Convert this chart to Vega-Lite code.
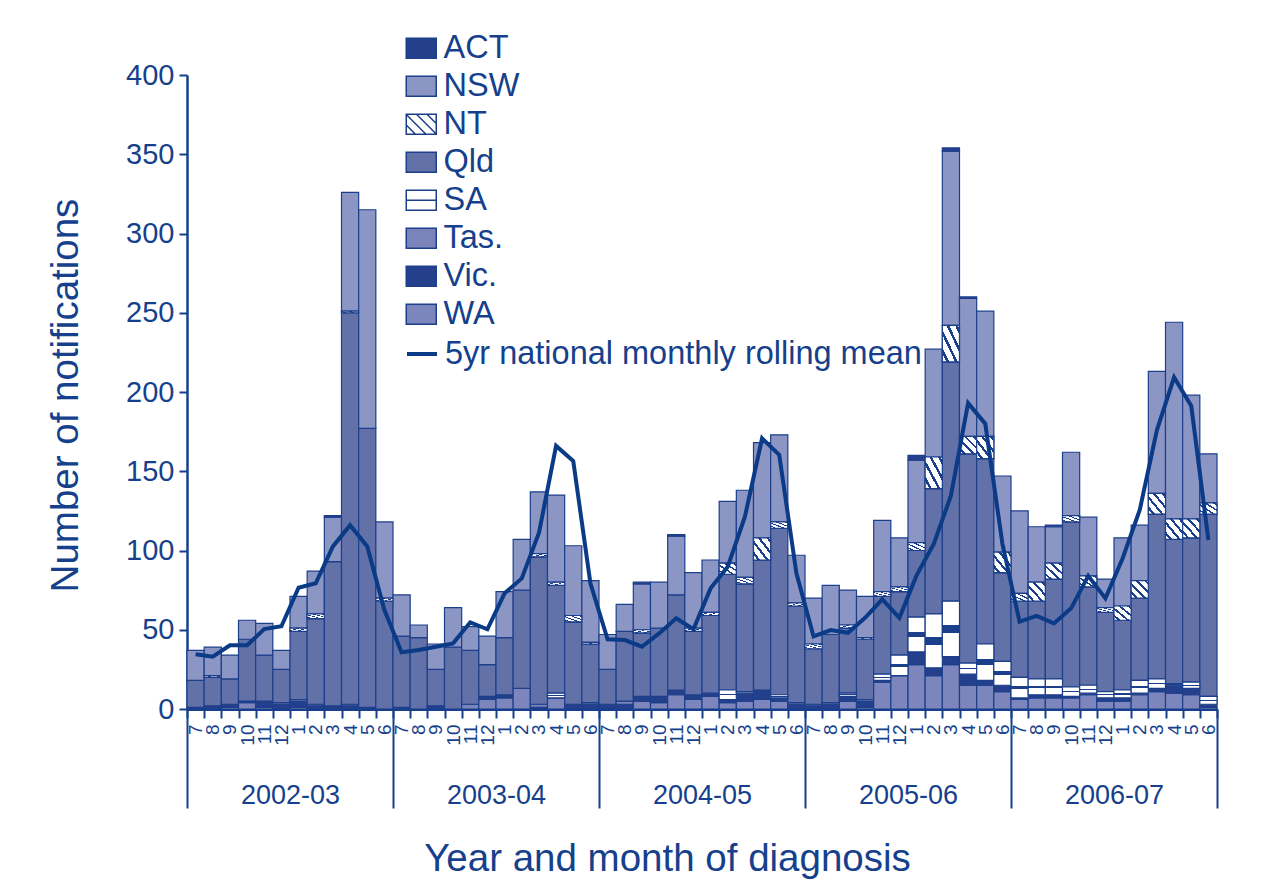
{
  "$schema": "https://vega.github.io/schema/vega-lite/v6.json",
  "width": 1030,
  "height": 634,
  "autosize": {"type": "none"},
  "padding": {"left": 187, "top": 75, "right": 53, "bottom": 174},
  "background": "white",
  "config": {
    "font": "Liberation Sans",
    "view": {"stroke": null},
    "axis": {"labelColor": "#163F8C", "titleColor": "#163F8C", "domainColor": "#163F8C", "tickColor": "#163F8C", "grid": false, "titleFontWeight": "normal", "labelFont": "Liberation Sans", "titleFont": "Liberation Sans"},
    "legend": {"labelFont": "Liberation Sans"}
  },
  "datasets": {
    "months": [
    {"m": "2002-07", "yr": "2002-03", "Vic": 1, "Qld": 17, "NSW": 19, "mean": 34.6},
    {"m": "2002-08", "yr": "2002-03", "Vic": 2, "Qld": 18, "NT": 1, "NSW": 18, "mean": 33},
    {"m": "2002-09", "yr": "2002-03", "WA": 1, "Vic": 2, "Qld": 16, "NSW": 15, "mean": 40.2},
    {"m": "2002-10", "yr": "2002-03", "WA": 4, "Vic": 1, "Qld": 39, "NSW": 12, "mean": 40.2},
    {"m": "2002-11", "yr": "2002-03", "WA": 1, "Vic": 4, "Qld": 29, "NSW": 20, "mean": 50.4},
    {"m": "2002-12", "yr": "2002-03", "Vic": 3, "Tas": 1, "Qld": 21, "NSW": 12, "mean": 52.2},
    {"m": "2003-01", "yr": "2002-03", "WA": 1, "Vic": 4, "Tas": 1, "Qld": 43, "NT": 2, "NSW": 20, "mean": 76.5},
    {"m": "2003-02", "yr": "2002-03", "Vic": 2, "Tas": 1, "Qld": 54, "NT": 3, "NSW": 27, "mean": 79.3},
    {"m": "2003-03", "yr": "2002-03", "Vic": 2, "Qld": 91, "NSW": 28, "ACT": 1, "mean": 102.6},
    {"m": "2003-04", "yr": "2002-03", "Vic": 2, "Tas": 1, "Qld": 247, "NT": 1, "NSW": 75, "mean": 116},
    {"m": "2003-05", "yr": "2002-03", "Vic": 1, "Qld": 176, "NSW": 138, "mean": 102.6},
    {"m": "2003-06", "yr": "2002-03", "Qld": 68, "NT": 2, "NSW": 48, "mean": 62.4},
    {"m": "2003-07", "yr": "2003-04", "Vic": 1, "Qld": 45, "NSW": 26, "mean": 35.8},
    {"m": "2003-08", "yr": "2003-04", "Qld": 45, "NSW": 8, "mean": 37.2},
    {"m": "2003-09", "yr": "2003-04", "Vic": 2, "Qld": 23, "NSW": 16, "mean": 39.3},
    {"m": "2003-10", "yr": "2003-04", "Qld": 39, "NSW": 25, "mean": 41.4},
    {"m": "2003-11", "yr": "2003-04", "WA": 3, "Qld": 34, "NSW": 15, "mean": 54.7},
    {"m": "2003-12", "yr": "2003-04", "WA": 6, "Vic": 2, "Qld": 20, "NSW": 18, "mean": 50.3},
    {"m": "2004-01", "yr": "2003-04", "WA": 7, "Vic": 2, "Qld": 36, "NSW": 29, "mean": 73},
    {"m": "2004-02", "yr": "2003-04", "WA": 13, "Qld": 62, "NSW": 32, "mean": 82.4},
    {"m": "2004-03", "yr": "2003-04", "Vic": 1, "Tas": 2, "Qld": 93, "NT": 2, "NSW": 39, "mean": 111},
    {"m": "2004-04", "yr": "2003-04", "WA": 7, "SA": 3, "Qld": 68, "NT": 2, "NSW": 55, "mean": 166},
    {"m": "2004-05", "yr": "2003-04", "Vic": 3, "Qld": 52, "NT": 4, "NSW": 44, "mean": 156.5},
    {"m": "2004-06", "yr": "2003-04", "Vic": 3, "Tas": 1, "Qld": 37, "NT": 1, "NSW": 39, "mean": 79.3},
    {"m": "2004-07", "yr": "2004-05", "Vic": 3, "Qld": 22, "NSW": 22, "mean": 44},
    {"m": "2004-08", "yr": "2004-05", "Vic": 3, "Tas": 2, "Qld": 44, "NSW": 17, "mean": 43.5},
    {"m": "2004-09", "yr": "2004-05", "WA": 5, "Vic": 3, "Qld": 40, "NT": 2, "NSW": 29, "ACT": 1, "mean": 39.3},
    {"m": "2004-10", "yr": "2004-05", "WA": 4, "Vic": 4, "Qld": 43, "NSW": 29, "mean": 47.7},
    {"m": "2004-11", "yr": "2004-05", "WA": 9, "Vic": 3, "Qld": 60, "NSW": 37, "ACT": 1, "mean": 57.2},
    {"m": "2004-12", "yr": "2004-05", "WA": 6, "Vic": 3, "Qld": 40, "NT": 2, "NSW": 35, "mean": 50.3},
    {"m": "2005-01", "yr": "2004-05", "WA": 8, "Vic": 2, "Qld": 49, "NT": 2, "NSW": 33, "mean": 76.1},
    {"m": "2005-02", "yr": "2004-05", "WA": 4, "Vic": 2, "SA": 6, "Qld": 73, "NT": 7, "NSW": 39, "mean": 89.8},
    {"m": "2005-03", "yr": "2004-05", "WA": 5, "Vic": 5, "SA": 1, "Qld": 68, "NT": 4, "NSW": 55, "mean": 121.3},
    {"m": "2005-04", "yr": "2004-05", "WA": 6, "Vic": 6, "Qld": 82, "NT": 14, "NSW": 60, "mean": 170.8},
    {"m": "2005-05", "yr": "2004-05", "WA": 5, "Vic": 2, "SA": 2, "Qld": 105, "NT": 4, "NSW": 55, "mean": 160.3},
    {"m": "2005-06", "yr": "2004-05", "Vic": 3, "Tas": 1, "Qld": 61, "NT": 2, "NSW": 30, "mean": 85.6},
    {"m": "2005-07", "yr": "2005-06", "Vic": 2, "Tas": 1, "Qld": 35, "NT": 3, "NSW": 29, "mean": 45.8},
    {"m": "2005-08", "yr": "2005-06", "Vic": 3, "Tas": 1, "Qld": 43, "NSW": 31, "mean": 49.8},
    {"m": "2005-09", "yr": "2005-06", "WA": 5, "Vic": 3, "SA": 2, "Qld": 41, "NT": 2, "NSW": 22, "mean": 48.1},
    {"m": "2005-10", "yr": "2005-06", "WA": 1, "Vic": 4, "Tas": 1, "Qld": 38, "NT": 1, "NSW": 26, "mean": 57.5},
    {"m": "2005-11", "yr": "2005-06", "WA": 17, "Vic": 1, "SA": 4, "Qld": 49, "NT": 3, "NSW": 45, "mean": 69.2},
    {"m": "2005-12", "yr": "2005-06", "WA": 21, "SA": 13, "Qld": 40, "NT": 3, "NSW": 31, "mean": 57.5},
    {"m": "2006-01", "yr": "2005-06", "WA": 28, "Vic": 8, "SA": 22, "Qld": 42, "NT": 5, "NSW": 52, "ACT": 3, "mean": 84.3},
    {"m": "2006-02", "yr": "2005-06", "WA": 21, "Vic": 5, "SA": 34, "Qld": 79, "NT": 20, "NSW": 68, "mean": 104.2},
    {"m": "2006-03", "yr": "2005-06", "WA": 28, "Vic": 5, "SA": 35, "Qld": 151, "NT": 23, "NSW": 110, "ACT": 2, "mean": 134.6},
    {"m": "2006-04", "yr": "2005-06", "WA": 15, "Vic": 7, "SA": 7, "Qld": 132, "NT": 11, "NSW": 87, "ACT": 1, "mean": 193},
    {"m": "2006-05", "yr": "2005-06", "WA": 15, "Vic": 3, "SA": 23, "Qld": 117, "NT": 14, "NSW": 79, "mean": 180},
    {"m": "2006-06", "yr": "2005-06", "WA": 11, "Vic": 4, "SA": 15, "Qld": 56, "NT": 13, "NSW": 48, "mean": 104.2},
    {"m": "2006-07", "yr": "2006-07", "WA": 6, "Vic": 1, "SA": 13, "Qld": 48, "NT": 5, "NSW": 52, "mean": 55.1},
    {"m": "2006-08", "yr": "2006-07", "WA": 7, "Vic": 2, "SA": 10, "Qld": 49, "NT": 12, "NSW": 35, "mean": 58.7},
    {"m": "2006-09", "yr": "2006-07", "WA": 7, "Vic": 2, "SA": 10, "Qld": 63, "NT": 10, "NSW": 23, "ACT": 1, "mean": 54},
    {"m": "2006-10", "yr": "2006-07", "WA": 7, "Vic": 1, "SA": 6, "Qld": 104, "NT": 4, "NSW": 40, "mean": 63.5},
    {"m": "2006-11", "yr": "2006-07", "WA": 9, "Vic": 1, "SA": 5, "Qld": 62, "NT": 7, "NSW": 37, "mean": 84},
    {"m": "2006-12", "yr": "2006-07", "WA": 5, "Vic": 2, "SA": 4, "Qld": 50, "NT": 3, "NSW": 18, "mean": 69.8},
    {"m": "2007-01", "yr": "2006-07", "WA": 5, "Vic": 2, "SA": 5, "Qld": 44, "NT": 9, "NSW": 43, "mean": 95},
    {"m": "2007-02", "yr": "2006-07", "WA": 9, "Vic": 1, "SA": 8, "Qld": 52, "NT": 11, "NSW": 35, "mean": 125.6},
    {"m": "2007-03", "yr": "2006-07", "WA": 11, "Vic": 2, "SA": 6, "Qld": 104, "NT": 13, "NSW": 77, "mean": 176},
    {"m": "2007-04", "yr": "2006-07", "WA": 10, "Vic": 5, "SA": 1, "Qld": 91, "NT": 13, "NSW": 124, "mean": 209.3},
    {"m": "2007-05", "yr": "2006-07", "WA": 9, "Vic": 4, "SA": 4, "Qld": 91, "NT": 12, "NSW": 78, "mean": 191.2},
    {"m": "2007-06", "yr": "2006-07", "WA": 1, "Vic": 2, "SA": 5, "Qld": 115, "NT": 7, "NSW": 31, "mean": 106.6}
    ]
  },
  "data": {"name": "months"},
  "layer": [
    {
      "layer": [
        {
          "transform": [
            {"fold": ["WA", "Vic", "Tas", "SA", "Qld", "NT", "NSW", "ACT"], "as": ["state", "n"]},
            {"filter": "isValid(datum.n) && datum.n > 0"},
            {"calculate": "indexof(['WA','Vic','Tas','SA','Qld','NT','NSW','ACT'], datum.state)", "as": "ord"},
            {"stack": "n", "groupby": ["m"], "sort": [{"field": "ord", "order": "ascending"}], "as": ["y0", "y1"]}
          ],
          "mark": {"type": "bar", "stroke": "#1C3F8B", "strokeWidth": 1.2},
          "encoding": {
            "x": {
              "field": "m", "type": "ordinal",
              "scale": {"paddingInner": 0, "paddingOuter": 0},
              "axis": {"orient": "bottom", "title": null, "labelAngle": 270, "labelFontSize": 19, "labelPadding": 6, "tickSize": 9, "tickWidth": 2, "tickBand": "extent", "domainWidth": 3, "labelOverlap": false, "labelExpr": "isString(datum.label) && length(datum.label) >= 7 ? replace(slice(datum.label, 5), /^0/, '') : ''"}
            },
            "y": {
              "field": "y0", "type": "quantitative", "title": "Number of notifications",
              "scale": {"domain": [0, 400], "nice": false},
              "axis": {"title": "Number of notifications", "titleFontSize": 38.5, "titleX": -122, "titleY": 320, "titleAngle": 270, "titleAlign": "center", "titleBaseline": "middle", "values": [0, 50, 100, 150, 200, 250, 300, 350, 400], "labelFontSize": 29, "labelPadding": 5, "tickSize": 8, "tickWidth": 2, "domainWidth": 2.5}
            },
            "y2": {"field": "y1"},
            "color": {
              "field": "state", "type": "nominal",
              "scale": {
                "domain": ["ACT", "NSW", "NT", "Qld", "SA", "Tas", "Vic", "WA"],
                "range": ["#24408C", "#8C96C4", "#ffffff", "#6371A9", "#ffffff", "#7A84BA", "#24408C", "#7D86BC"]
              },
              "legend": {
                "orient": "none", "legendX": 218, "legendY": -43, "title": null, "padding": 0,
                "symbolType": "M-1,-0.667H1V0.667H-1Z", "symbolSize": 900, "symbolStrokeColor": "#1C3F8B", "symbolStrokeWidth": 1.5,
                "labelFontSize": 32.5, "labelColor": "#163F8C", "labelOffset": 6, "labelLimit": 0, "rowPadding": 5,
                "labelExpr": "datum.label == 'Tas' ? 'Tas.' : datum.label == 'Vic' ? 'Vic.' : datum.label",
                "encode": {"symbols": {"update": {
                  "stroke": {"value": "#1C3F8B"},
                  "strokeWidth": {"value": 1.5},
                  "shape": {"signal": "datum.value == 'NT' ? 'M-1,-0.667H1V0.667H-1Z M-1,0.05L-0.383,0.667 M-1,-0.65L0.317,0.667 M-0.317,-0.667L1,0.65 M0.383,-0.667L1,-0.05' : datum.value == 'SA' ? 'M-1,-0.667H1V0.667H-1Z M-1,0H1' : 'M-1,-0.667H1V0.667H-1Z'"}
                }}}
              }
            }
          }
        },
        {
          "transform": [
            {"fold": ["WA", "Vic", "Tas", "SA", "Qld", "NT", "NSW", "ACT"], "as": ["state", "n"]},
            {"filter": "isValid(datum.n) && datum.n > 0"},
            {"calculate": "indexof(['WA','Vic','Tas','SA','Qld','NT','NSW','ACT'], datum.state)", "as": "ord"},
            {"stack": "n", "groupby": ["m"], "sort": [{"field": "ord", "order": "ascending"}], "as": ["y0", "y1"]},
            {"filter": "datum.state == 'NT'"}
          ],
          "mark": {"type": "bar", "stroke": "#1C3F8B", "strokeWidth": 1.2, "color": {"gradient": "linear", "x1": 0, "y1": 1, "x2": 1, "y2": 0, "stops": [
            {"offset": 0, "color": "#ffffff"}, {"offset": 0.12, "color": "#ffffff"}, {"offset": 0.12, "color": "#1C3F8B"}, {"offset": 0.2, "color": "#1C3F8B"}, {"offset": 0.2, "color": "#ffffff"},
            {"offset": 0.37, "color": "#ffffff"}, {"offset": 0.37, "color": "#1C3F8B"}, {"offset": 0.45, "color": "#1C3F8B"}, {"offset": 0.45, "color": "#ffffff"},
            {"offset": 0.62, "color": "#ffffff"}, {"offset": 0.62, "color": "#1C3F8B"}, {"offset": 0.7, "color": "#1C3F8B"}, {"offset": 0.7, "color": "#ffffff"},
            {"offset": 0.87, "color": "#ffffff"}, {"offset": 0.87, "color": "#1C3F8B"}, {"offset": 0.95, "color": "#1C3F8B"}, {"offset": 0.95, "color": "#ffffff"}, {"offset": 1, "color": "#ffffff"}]}},
          "encoding": {
            "x": {"field": "m", "type": "ordinal"},
            "y": {"field": "y0", "type": "quantitative", "title": "Number of notifications"},
            "y2": {"field": "y1"}
          }
        },
        {
          "transform": [
            {"fold": ["WA", "Vic", "Tas", "SA", "Qld", "NT", "NSW", "ACT"], "as": ["state", "n"]},
            {"filter": "isValid(datum.n) && datum.n > 0"},
            {"calculate": "indexof(['WA','Vic','Tas','SA','Qld','NT','NSW','ACT'], datum.state)", "as": "ord"},
            {"stack": "n", "groupby": ["m"], "sort": [{"field": "ord", "order": "ascending"}], "as": ["y0", "y1"]},
            {"filter": "datum.state == 'SA'"}
          ],
          "mark": {"type": "bar", "stroke": "#1C3F8B", "strokeWidth": 1.2, "color": {"gradient": "linear", "x1": 0, "y1": 0, "x2": 0, "y2": 1, "stops": [
            {"offset": 0, "color": "#ffffff"}, {"offset": 0.42, "color": "#ffffff"}, {"offset": 0.42, "color": "#1C3F8B"}, {"offset": 0.58, "color": "#1C3F8B"}, {"offset": 0.58, "color": "#ffffff"}, {"offset": 1, "color": "#ffffff"}]}},
          "encoding": {
            "x": {"field": "m", "type": "ordinal"},
            "y": {"field": "y0", "type": "quantitative", "title": "Number of notifications"},
            "y2": {"field": "y1"}
          }
        },
        {
          "mark": {"type": "line", "strokeWidth": 4, "strokeJoin": "miter"},
          "encoding": {
            "x": {"field": "m", "type": "ordinal"},
            "y": {"field": "mean", "type": "quantitative", "title": "Number of notifications"},
            "stroke": {
              "datum": "5yr national monthly rolling mean", "type": "nominal",
              "scale": {"range": ["#0B3A86"]},
              "legend": {
                "orient": "none", "legendX": 218, "legendY": 262, "title": null, "padding": 0,
                "symbolType": "M-1,0H1", "symbolSize": 900, "symbolStrokeWidth": 4,
                "labelFontSize": 32.5, "labelColor": "#163F8C", "labelOffset": 6, "labelLimit": 0
              }
            }
          }
        }
      ]
    },
    {
      "mark": {"type": "rule", "opacity": 0},
      "encoding": {
        "x": {
          "field": "yr", "type": "ordinal",
          "scale": {"paddingInner": 0, "paddingOuter": 0},
          "axis": {"orient": "bottom", "title": "Year and month of diagnosis", "titleFontSize": 38.5, "titleX": 480, "titleY": 149, "titleBaseline": "middle", "titleAlign": "center", "tickSize": 99, "tickWidth": 2, "tickBand": "extent", "domain": false, "labelAngle": 0, "labelFontSize": 27, "labelPadding": -26}
        }
      }
    }
  ],
  "resolve": {"scale": {"x": "independent"}, "axis": {"x": "independent"}}
}
